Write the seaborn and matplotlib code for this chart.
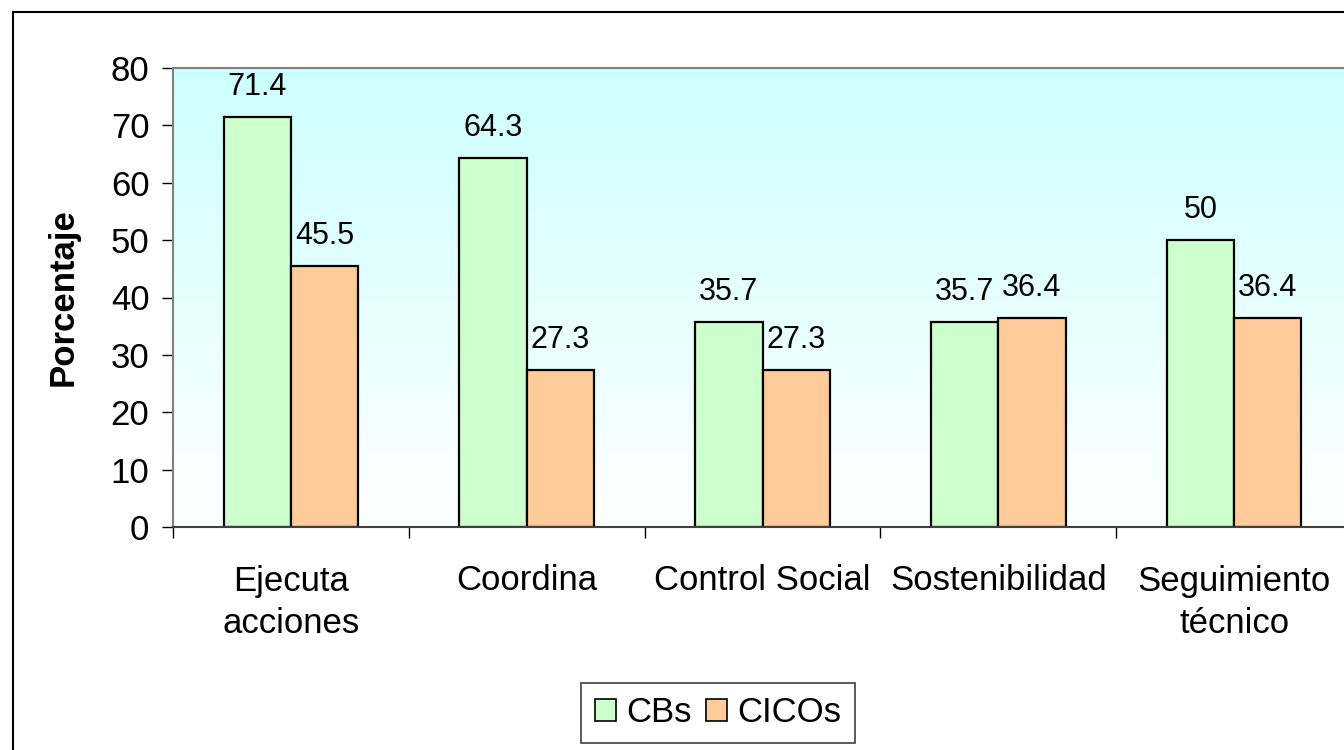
import numpy as np
import pandas as pd
import matplotlib
matplotlib.use("Agg")
import matplotlib.pyplot as plt
from matplotlib.colors import LinearSegmentedColormap
from matplotlib.patches import Rectangle
import seaborn as sns

# datos
categorias = ["Ejecuta\nacciones", "Coordina", "Control Social", "Sostenibilidad", "Seguimiento\ntécnico"]
grupos = ["CBs", "CICOs"]
cbs = [71.4, 64.3, 35.7, 35.7, 50]
cicos = [45.5, 27.3, 27.3, 36.4, 36.4]
y_ticks = [0, 10, 20, 30, 40, 50, 60, 70, 80]

df = pd.DataFrame({
    "categoria": categorias * 2,
    "grupo": [grupos[0]] * len(categorias) + [grupos[1]] * len(categorias),
    "valor": cbs + cicos,
})

sns.set_theme(style="white")
plt.rcParams["font.family"] = ["Liberation Sans", "DejaVu Sans"]
plt.rcParams["text.color"] = "black"
plt.rcParams["xtick.color"] = "black"
plt.rcParams["ytick.color"] = "black"
plt.rcParams["axes.labelcolor"] = "black"

W, H = 1344, 750
fig = plt.figure(figsize=(W / 100, H / 100), dpi=100)
fig.patch.set_facecolor("white")

# ejes: el area de trazado se sale por la derecha, como en el original
ax = fig.add_axes([173 / W, 1 - 527 / H, (1352 - 173) / W, (527 - 68) / H])

# fondo degradado cian -> blanco
cmap = LinearSegmentedColormap.from_list("fondo", ["#ffffff", "#ccffff"])
grad = np.linspace(0, 1, 256).reshape(-1, 1)
ax.imshow(grad, extent=[-0.5, 4.5, 0, 80], origin="lower", aspect="auto",
          cmap=cmap, zorder=0)

sns.barplot(data=df, x="categoria", y="valor", hue="grupo", ax=ax,
            palette=["#ccffcc", "#ffcc99"], width=0.57, edgecolor="black",
            linewidth=1.6, saturation=1, zorder=2)

for cont in ax.containers:
    ax.bar_label(cont, fmt="%g", padding=11, fontsize=22, color="black")

ax.set_xlim(-0.5, 4.5)
ax.set_ylim(0, 80)
ax.set_yticks(y_ticks)
ax.set_xticks(np.arange(-0.5, 5, 1), minor=True)
ax.tick_params(axis="y", which="major", length=8, width=1, color="black",
               labelsize=25, pad=9, direction="out", left=True,
               labelcolor="black")
ax.tick_params(axis="x", which="major", length=0, labelsize=25, pad=27,
               labelcolor="black")
ax.tick_params(axis="x", which="minor", length=8, width=1, color="black",
               direction="out", bottom=True)
for lbl in ax.get_xticklabels():
    lbl.set_linespacing(1.38)

for s in ax.spines.values():
    s.set_color("#808080")
    s.set_linewidth(1.5)
ax.spines["bottom"].set_color("#404040")

ax.set_xlabel("")
ax.set_ylabel("Porcentaje", fontsize=25, fontweight="bold", labelpad=22,
              color="black")

leg = ax.legend(loc="center", bbox_to_anchor=(718 / W, 1 - 713 / H),
                bbox_transform=fig.transFigure, ncol=2, fontsize=25,
                frameon=True, fancybox=False, edgecolor="#404040",
                framealpha=1, handlelength=0.6, handleheight=0.6,
                handletextpad=0.3, columnspacing=0.4, borderpad=0.4)
leg.get_frame().set_linewidth(1.2)
for t in leg.get_texts():
    t.set_color("black")
for h in leg.legend_handles:
    h.set_edgecolor("black")
    h.set_linewidth(1.2)

# marco exterior del grafico
fig.patches.append(Rectangle((13 / W, -0.1), 1.2, 1 - 12 / H + 0.1,
                             transform=fig.transFigure, fill=False,
                             edgecolor="black", linewidth=1.5))

fig.savefig("out.png", dpi=100, facecolor=fig.get_facecolor())
